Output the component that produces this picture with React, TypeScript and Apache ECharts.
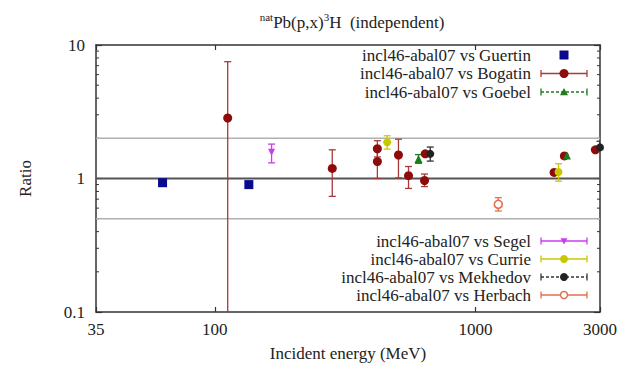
import React, { useEffect, useRef } from "react";
import * as echarts from "echarts";

const xMin = 35;
const xMax = 3000;
const yMin = 0.1;
const yMax = 10;
const xTickLabels = [35, 100, 1000, 3000];
const yTickLabels = [0.1, 1, 10];
const yMinorTicks = [0.2, 0.3, 0.4, 0.5, 0.6, 0.7, 0.8, 0.9, 2, 3, 4, 5, 6, 7, 8, 9];
const refLines = [0.5, 2, 1];

// [energy MeV, ratio, low, high]
const guertin: number[][] = [
  [63, 0.93],
  [135, 0.9],
];
const bogatin: number[][] = [
  [112, 2.84, 0.05, 7.5],
  [282, 1.19, 0.735, 1.64],
  [420, 1.67, 1.45, 1.92],
  [420, 1.34, 1.0, 1.62],
  [506, 1.5, 1.01, 1.97],
  [553, 1.05, 0.843, 1.23],
  [637, 0.966, 0.87, 1.08],
  [641, 1.53, 1.53, 1.53],
  [2000, 1.11, 1.11, 1.11],
  [2190, 1.475, 1.475, 1.475],
  [2880, 1.64, 1.64, 1.64],
];
const goebel: number[][] = [
  [604, 1.4, 1.3, 1.51],
  [2240, 1.49, 1.49, 1.49],
];
const segel: number[][] = [[165, 1.57, 1.31, 1.81]];
const currie: number[][] = [
  [458, 1.87, 1.66, 2.09],
  [2080, 1.12, 0.955, 1.29],
];
const mekhedov: number[][] = [
  [670, 1.53, 1.35, 1.72],
  [3000, 1.71, 1.62, 1.9],
];
const herbach: number[][] = [[1222, 0.641, 0.571, 0.718]];

const FONT = "Liberation Serif, DejaVu Serif, serif";

type Entry = {
  name: string;
  data: number[][];
  color: string;
  bar: string;
  symbol: string;
  rotate: number;
  size: number;
  dashed: boolean;
  line: boolean;
  hollow?: boolean;
};

const entries: Entry[] = [
  { name: "incl46-abal07 vs Guertin", data: guertin, color: "#0a0a8c", bar: "#0a0a8c", symbol: "rect", rotate: 0, size: 9, dashed: false, line: false },
  { name: "incl46-abal07 vs Bogatin", data: bogatin, color: "#8e0b0b", bar: "#a83a3a", symbol: "circle", rotate: 0, size: 9, dashed: false, line: true },
  { name: "incl46-abal07 vs Goebel", data: goebel, color: "#1e7b1e", bar: "#1e7b1e", symbol: "triangle", rotate: 0, size: 8, dashed: true, line: true },
  { name: "incl46-abal07 vs Segel", data: segel, color: "#c83cf0", bar: "#c83cf0", symbol: "triangle", rotate: 180, size: 7, dashed: false, line: true },
  { name: "incl46-abal07 vs Currie", data: currie, color: "#c8c800", bar: "#c8c800", symbol: "circle", rotate: 0, size: 8, dashed: false, line: true },
  { name: "incl46-abal07 vs Mekhedov", data: mekhedov, color: "#222222", bar: "#333333", symbol: "circle", rotate: 0, size: 8, dashed: true, line: true },
  { name: "incl46-abal07 vs Herbach", data: herbach, color: "#e0704f", bar: "#e0704f", symbol: "circle", rotate: 0, size: 8, dashed: false, line: true, hollow: true },
];

const legendRows = [55, 73.5, 92, 241, 259, 277, 295];

function errorBarSeries(e: Entry) {
  return {
    type: "custom",
    clip: true,
    silent: true,
    data: e.data.filter((d) => d.length > 2),
    encode: { x: 0, y: [2, 3] },
    renderItem: (params: any, api: any) => {
      const x = api.value(0);
      const lo = api.value(2);
      const hi = api.value(3);
      if (!(hi > lo)) return null;
      const a = api.coord([x, hi]);
      const b = api.coord([x, lo]);
      const w = 3.5;
      const style = { stroke: e.bar, lineWidth: 1.3 };
      return {
        type: "group",
        children: [
          { type: "line", shape: { x1: a[0], y1: a[1], x2: b[0], y2: b[1] }, style },
          { type: "line", shape: { x1: a[0] - w, y1: a[1], x2: a[0] + w, y2: a[1] }, style },
          { type: "line", shape: { x1: b[0] - w, y1: b[1], x2: b[0] + w, y2: b[1] }, style },
        ],
      };
    },
  };
}

function pointSeries(e: Entry) {
  return {
    type: "scatter",
    name: e.name,
    data: e.data.map((d) => [d[0], d[1]]),
    symbol: e.symbol,
    symbolRotate: e.rotate,
    symbolSize: e.size,
    itemStyle: e.hollow
      ? { color: "#ffffff", borderColor: e.color, borderWidth: 1.6, opacity: 1 }
      : { color: e.color, opacity: 1 },
    clip: false,
  };
}

function legendGraphics() {
  const out: any[] = [];
  const tx = 531;
  const l1 = 541;
  const l2 = 587;
  const mx = 564;
  entries.forEach((e, i) => {
    const y = legendRows[i];
    out.push({
      type: "text",
      x: tx,
      y,
      style: { text: e.name, fontFamily: FONT, fontSize: 17, fill: "#222", align: "right", verticalAlign: "middle" },
    });
    if (e.line) {
      const st = { stroke: e.bar, lineWidth: 1.3, lineDash: e.dashed ? [3, 2] : null };
      out.push({ type: "line", shape: { x1: l1, y1: y, x2: l2, y2: y }, style: st });
      out.push({ type: "line", shape: { x1: l1, y1: y - 3.5, x2: l1, y2: y + 3.5 }, style: { stroke: e.bar, lineWidth: 1.3 } });
      out.push({ type: "line", shape: { x1: l2, y1: y - 3.5, x2: l2, y2: y + 3.5 }, style: { stroke: e.bar, lineWidth: 1.3 } });
    }
    const r = e.size / 2;
    if (e.symbol === "rect") {
      out.push({ type: "rect", shape: { x: mx - r, y: y - r, width: e.size, height: e.size }, style: { fill: e.color } });
    } else if (e.symbol === "triangle" && e.rotate === 0) {
      out.push({ type: "polygon", shape: { points: [[mx, y - r], [mx + r, y + r * 0.8], [mx - r, y + r * 0.8]] }, style: { fill: e.color } });
    } else if (e.symbol === "triangle") {
      out.push({ type: "polygon", shape: { points: [[mx, y + r], [mx + r, y - r * 0.8], [mx - r, y - r * 0.8]] }, style: { fill: e.color } });
    } else if (e.hollow) {
      out.push({ type: "circle", shape: { cx: mx, cy: y, r: r - 0.5 }, style: { fill: "#fff", stroke: e.color, lineWidth: 1.5 } });
    } else {
      out.push({ type: "circle", shape: { cx: mx, cy: y, r }, style: { fill: e.color } });
    }
  });
  return out;
}

export default function App() {
  const ref = useRef<HTMLDivElement>(null);
  useEffect(() => {
    document.body.style.margin = "0";
    if (!ref.current) return;
    const chart = echarts.init(ref.current, null, { renderer: "svg" });
    const axisLine = { show: true, onZero: false, lineStyle: { color: "#333", width: 1.5 } };
    const labelStyle = { fontFamily: FONT, fontSize: 17, color: "#222" };
    const option: any = {
      animation: false,
      backgroundColor: "#ffffff",
      textStyle: { fontFamily: FONT },
      title: {
        text: "{s|nat}{m|Pb(p,x)}{s|3}{m|H  (independent)}",
        left: 347,
        top: 6,
        textAlign: "center",
        textStyle: {
          fontFamily: FONT,
          fontSize: 17,
          fontWeight: "normal",
          color: "#222",
          rich: {
            m: { fontFamily: FONT, fontSize: 17, color: "#222", lineHeight: 22 },
            s: { fontFamily: FONT, fontSize: 11, color: "#222", verticalAlign: "top", lineHeight: 22 },
          },
        },
      },
      grid: { left: 96, right: 31, top: 45, bottom: 54, containLabel: false },
      xAxis: [
        {
          type: "log",
          logBase: 10,
          min: xMin,
          max: xMax,
          position: "bottom",
          axisLine,
          axisTick: { show: true, inside: true, length: 5, lineStyle: { color: "#333", width: 1.2 } },
          axisLabel: {
            ...labelStyle,
            margin: 9,
            showMinLabel: true,
            showMaxLabel: true,
            formatter: (v: number) => {
              const m = xTickLabels.find((t) => Math.abs(t - v) / t < 0.01);
              return m !== undefined ? String(m) : "";
            },
          },
          splitLine: { show: false },
          name: "Incident energy (MeV)",
          nameLocation: "middle",
          nameGap: 33,
          nameTextStyle: labelStyle,
        },
        {
          type: "log",
          logBase: 10,
          min: xMin,
          max: xMax,
          position: "top",
          axisLine,
          axisTick: { show: true, inside: true, length: 5, lineStyle: { color: "#333", width: 1.2 } },
          axisLabel: { show: false },
          splitLine: { show: false },
        },
      ],
      yAxis: [
        {
          type: "log",
          logBase: 10,
          min: yMin,
          max: yMax,
          position: "left",
          axisLine,
          axisTick: { show: true, inside: true, length: 6, lineStyle: { color: "#333", width: 1.2 } },
          axisLabel: {
            ...labelStyle,
            margin: 11,
            formatter: (v: number) => {
              const m = yTickLabels.find((t) => Math.abs(t - v) / t < 0.01);
              return m !== undefined ? String(m) : "";
            },
          },
          splitLine: { show: false },
          name: "Ratio",
          nameLocation: "middle",
          nameGap: 62,
          nameRotate: 90,
          nameTextStyle: labelStyle,
        },
        {
          type: "log",
          logBase: 10,
          min: yMin,
          max: yMax,
          position: "right",
          axisLine,
          axisTick: { show: true, inside: true, length: 6, lineStyle: { color: "#333", width: 1.2 } },
          axisLabel: { show: false },
          splitLine: { show: false },
        },
      ],
      series: [
        {
          type: "custom",
          silent: true,
          clip: false,
          data: yMinorTicks.map((v) => [xMin, v]),
          renderItem: (params: any, api: any) => {
            const cs = params.coordSys;
            const y = api.coord([xMin, api.value(1)])[1];
            const st = { stroke: "#333", lineWidth: 1 };
            return {
              type: "group",
              children: [
                { type: "line", shape: { x1: cs.x, y1: y, x2: cs.x + 3, y2: y }, style: st },
                { type: "line", shape: { x1: cs.x + cs.width - 3, y1: y, x2: cs.x + cs.width, y2: y }, style: st },
              ],
            };
          },
        },
        {
          type: "custom",
          silent: true,
          clip: true,
          data: refLines.map((v) => [xMin, v]),
          renderItem: (params: any, api: any) => {
            const cs = params.coordSys;
            const v = api.value(1);
            const y = api.coord([xMin, v])[1];
            const strong = Math.abs(v - 1) < 1e-9;
            return {
              type: "line",
              shape: { x1: cs.x, y1: y, x2: cs.x + cs.width, y2: y },
              style: { stroke: strong ? "#555" : "#b0b0b0", lineWidth: strong ? 2 : 1.6 },
            };
          },
        },
        ...entries.flatMap((e) => [errorBarSeries(e), pointSeries(e)]),
      ],
      graphic: legendGraphics(),
    };
    chart.setOption(option);
    return () => chart.dispose();
  }, []);
  return <div ref={ref} style={{ width: 631, height: 367 }} />;
}
